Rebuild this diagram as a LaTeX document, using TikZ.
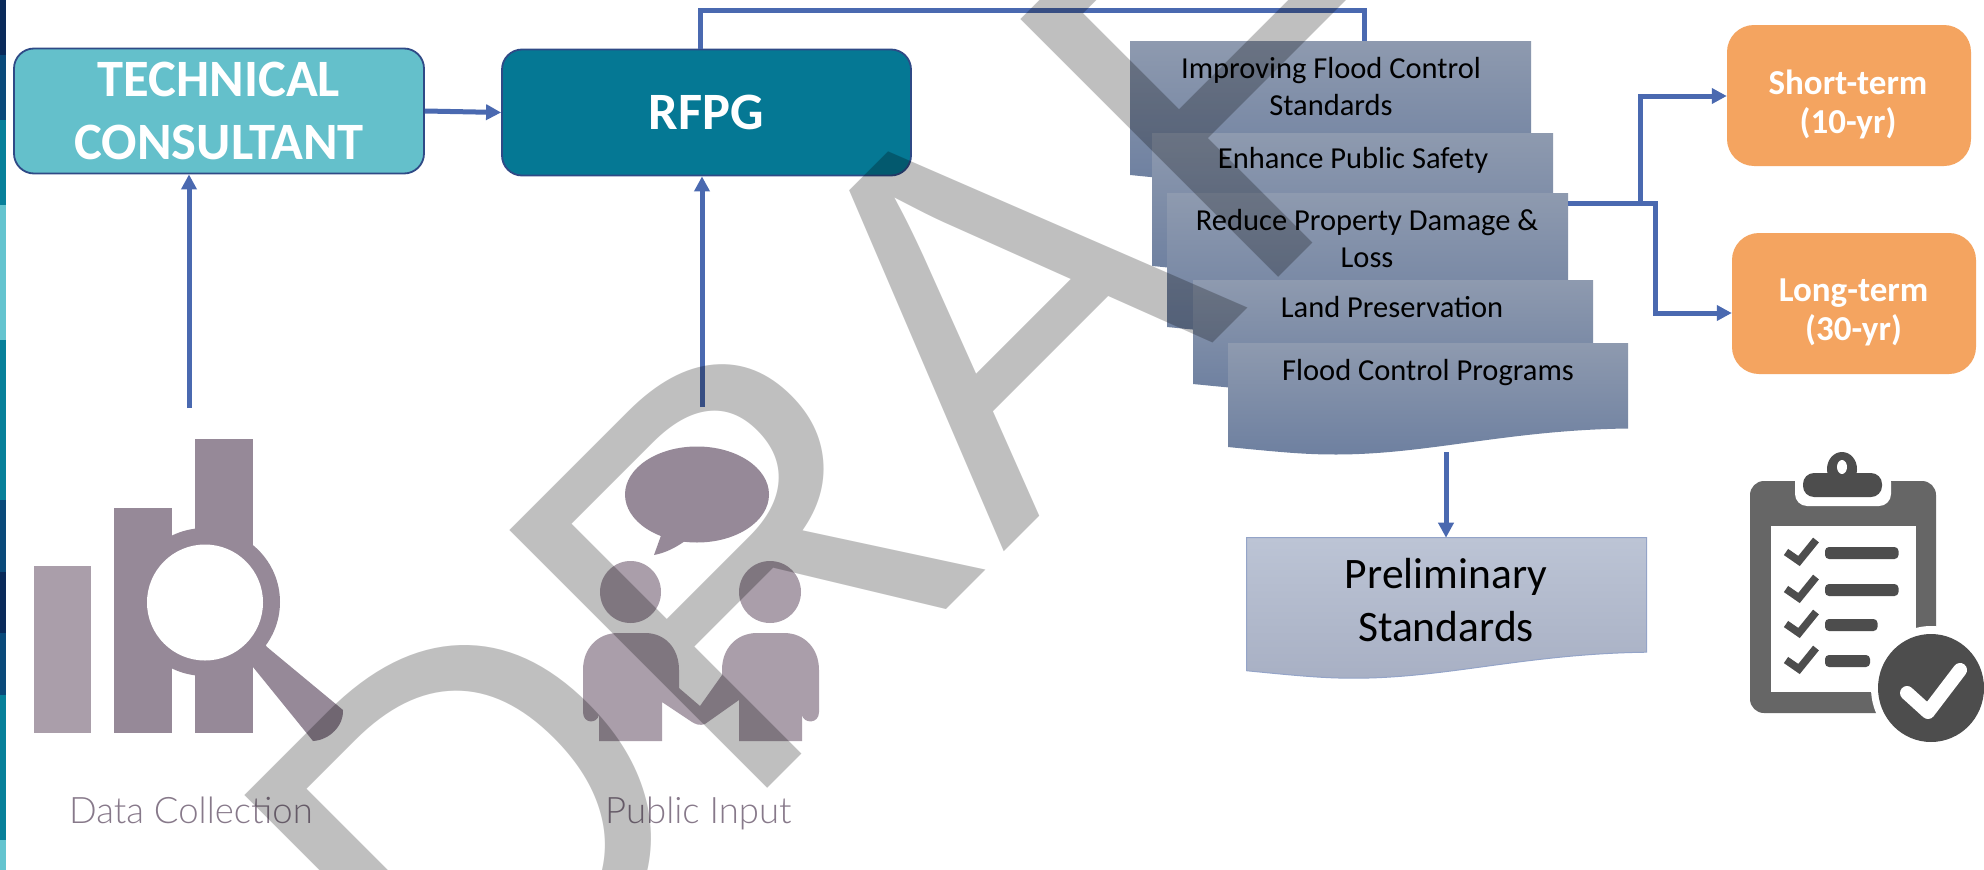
\documentclass[tikz,border=0pt]{standalone}
\usepackage{fontspec}
\setmainfont{Carlito}
\newfontfamily\latofont{Lato Light}
\newfontfamily\wmfont[FakeStretch=0.981]{Liberation Sans}
\usetikzlibrary{arrows.meta,calc}
\definecolor{flowblue}{HTML}{4A69B0}
\definecolor{tealL}{HTML}{64C0CB}
\definecolor{tealD}{HTML}{057894}
\definecolor{boxedge}{HTML}{2F4A86}
\definecolor{orangeB}{HTML}{F4A460}
\definecolor{iconA}{HTML}{968998}
\definecolor{iconB}{HTML}{AA9EAA}
\definecolor{iconT}{HTML}{87798A}
\definecolor{clipA}{HTML}{666666}
\definecolor{clipB}{HTML}{4D4D4D}
\definecolor{docT}{HTML}{8E9AAF}
\definecolor{docM}{HTML}{8596B4}
\definecolor{docB}{HTML}{6E80A0}
\definecolor{preT}{HTML}{BCC4D5}
\definecolor{preM}{HTML}{B2BACD}
\definecolor{preB}{HTML}{A8B0C4}
\definecolor{stripN}{HTML}{0A2A5A}
\definecolor{stripB}{HTML}{0A4A7A}
\definecolor{stripT}{HTML}{07809A}
\definecolor{stripL}{HTML}{64C4CF}
\tikzset{
 roundbox/.style={draw=boxedge,line width=1.8pt,rounded corners=20pt,inner sep=0pt,align=center,text=white,font=\fontsize{52.5}{63}\selectfont\bfseries},
 orangebox/.style={fill=orangeB,rounded corners=27pt,inner sep=0pt},
 orangelabel/.style={inner sep=0pt,align=center,text=white,font=\fontsize{35}{39}\selectfont\bfseries},
 flow/.style={draw=flowblue,line width=5pt},
 flowtip/.style={flow,-{Triangle[length=15pt,width=15pt]}},
 docedge/.style={inner sep=0pt,outer sep=0pt,anchor=north west},
 doclabel/.style={align=center,font=\fontsize{30.5}{37}\selectfont,inner sep=0pt},
 icontext/.style={text=iconT,inner sep=0pt,anchor=base west,font=\latofont\fontsize{36.5}{44}\selectfont},
 watermark/.style={text=black,text opacity=.25,inner sep=0pt,anchor=base west,rotate=45,font=\wmfont\fontsize{530}{530}\selectfont},
}
% [extra], name, x1, ytop, x2, yleftbottom, top/mid/bottom prefix
\newcommand{\docshape}[7][]{%
 \path[top color=#7T,middle color=#7M,bottom color=#7B,#1] (#3,#4) -- (#5,#4) -- (#5,{#6-18.5})
  .. controls ({#3+.7*(#5-#3)},{#6-17}) and ({#3+.5*(#5-#3)},{#6+7.5}) .. ({#3+.27*(#5-#3)},{#6+7.5})
  .. controls ({#3+.2*(#5-#3)},{#6+7.5}) and ({#3+.15*(#5-#3)},{#6+6}) .. (#3,#6) -- cycle;
 \node[docedge,minimum width={(#5-#3)*1pt},minimum height={(#6-#4)*1pt}] (#2) at (#3,#4) {};
}
\begin{document}
\begin{tikzpicture}[x=1pt,y=-1pt]
\useasboundingbox (0,0) rectangle (1984,870);
\fill[white] (0,0) rectangle (1984,870);
% left decorative strip
\fill[stripN] (0,0) rectangle (6,55);
\fill[stripB] (0,55) rectangle (6,120);
\fill[stripT] (0,120) rectangle (6,205);
\fill[stripL] (0,205) rectangle (6,340);
\fill[stripT] (0,340) rectangle (6,500);
\fill[stripB] (0,500) rectangle (6,572);
\fill[stripN] (0,572) rectangle (6,633);
\fill[stripB] (0,633) rectangle (6,695);
\fill[stripT] (0,695) rectangle (6,840);
\fill[stripL] (0,840) rectangle (6,870);
% boxes
\node[roundbox,fill=tealL,minimum width=410pt,minimum height=125pt] (tc) at (219,111) {TECHNICAL\\CONSULTANT};
\node[roundbox,fill=tealD,minimum width=409pt,minimum height=126pt] (rfpg) at (706.5,112.5) {\raisebox{-2.5pt}{RFPG}};
\node[orangebox,minimum width=244pt,minimum height=141pt] (short) at (1849,95.5) {};
\node[orangelabel] (shortt) at (1848,104) {Short-term\\(10-yr)};
\node[orangebox,minimum width=244pt,minimum height=141pt] (long) at (1854,303.5) {};
\node[orangelabel] (longt) at (1853.5,312) {Long-term\\(30-yr)};
% free ends
\coordinate (dataend) at (189,408);
\coordinate (pubend) at (702,407);
% document stack
\docshape{doc1}{1130}{41}{1531}{175}{doc}
\docshape{doc2}{1152.5}{133}{1553}{266}{doc}
\docshape{doc3}{1167}{193}{1568}{327}{doc}
\docshape{doc4}{1193}{280}{1593}{384}{doc}
\docshape{doc5}{1228}{343}{1628}{447}{doc}
\docshape[draw=flowblue!35!preT,line width=1pt]{prelim}{1246.5}{537.7}{1646.5}{670.7}{pre}
\node[doclabel,anchor=center] (t1) at (1331,87) {Improving Flood Control\\Standards};
\node[doclabel,anchor=base] (t2) at (1353,168) {Enhance Public Safety};
\node[doclabel,anchor=center] (t3) at (1367,239) {Reduce Property Damage \&\\Loss};
\node[doclabel,anchor=base] (t4) at (1392,317) {Land Preservation};
\node[doclabel,anchor=base] (t5) at (1428,380) {Flood Control Programs};
\node[align=center,inner sep=0pt,font=\fontsize{43.5}{53}\selectfont] (t6) at (1446,600) {Preliminary\\Standards};
% connectors
\draw[flowtip] (tc.east) -- (rfpg.west);
\draw[flowtip] (dataend) -- (dataend |- tc.south);
\draw[flowtip] (pubend) -- (pubend |- rfpg.south);
\coordinate (topa) at (700.5,49);
\coordinate (topb) at (1364,41);
\draw[flow] (topa) -- (700.5,10.5) -- (1364,10.5) -- (topb);
\coordinate (d3out) at (1568,203);
\draw[flowtip] (d3out) -- (1640,203) -- (1640,96) -- (short.west |- 0,96);
\draw[flowtip] (d3out) -- (1655,203) -- (1655,313) -- (long.west |- 0,313);
\coordinate (d5out) at (1446,452);
\draw[flowtip] (d5out) -- (d5out |- prelim.north);
% data collection icon
\fill[iconB] (34.4,566) rectangle (90.7,733);
\fill[iconA] (114,508) rectangle (172,733);
\fill[iconA] (195,439) rectangle (252.6,733);
\fill[iconA] (255,630) -- (267,647) -- (343,710) .. controls (344,725) and (330,740) .. (313,741) -- (253,667) -- (240,650) -- cycle;
\fill[iconA] (205,602) ellipse [x radius=75,y radius=74];
\fill[white] (205,602.5) circle [radius=58];
\node[icontext] (lab1) at (69,823) {Data Collection};
% public input icon
\fill[iconA] (697,494.5) ellipse [x radius=72,y radius=48];
\fill[iconA] (663,530) -- (654,555) .. controls (665,553) and (675,548) .. (685,541) -- cycle;
\fill[iconB] (630.5,592) ellipse [x radius=30.5,y radius=31];
\fill[iconB] (770,592) ellipse [x radius=31,y radius=31];
\fill[iconB] (599,741) -- (599,715) .. controls (597,724) and (583,724) .. (583,712) -- (583,670)
  .. controls (583,648) and (598,633) .. (618,633) -- (645,633) .. controls (665,633) and (679,648) .. (679,670)
  -- (679,688) -- (700,706) -- (722,675) -- (722,670) .. controls (722,648) and (737,633) .. (757,633) -- (784,633)
  .. controls (804,633) and (819,648) .. (819,670) -- (819,712) .. controls (819,724) and (804,724) .. (802,715)
  -- (802,741) -- (739,741) -- (739,700) -- (705,724) .. controls (700,726) and (695,724) .. (692,722) -- (662,702) -- (662,741) -- cycle;
\node[icontext] (lab2) at (605,823) {Public Input};
% clipboard icon
\fill[clipA,rounded corners=14pt] (1750,481) rectangle (1936,713);
\fill[white] (1770.5,526) rectangle (1915.5,692);
\fill[white,rounded corners=12pt] (1795,470) rectangle (1891,506);
\fill[clipB,rounded corners=11pt] (1803,473) rectangle (1882,497);
\fill[clipB] (1842,469) ellipse [x radius=15,y radius=17];
\fill[white] (1842,467) ellipse [x radius=5,y radius=7];
\foreach \r/\e in {540/1898.5,577/1898.5,612/1877.5,648/1870}{
 \draw[clipB,line width=7.5pt,line join=miter] (1786,\r+12) -- (1799,\r+21) -- (1816,\r);
 \fill[clipB,rounded corners=4pt] (1825,\r+7) rectangle (\e,\r+19);
}
\fill[white] (1931,688) ellipse [x radius=60,y radius=62];
\fill[clipB] (1931,688) ellipse [x radius=53,y radius=54];
\draw[white,line width=14pt,line cap=round,line join=round] (1907,693) -- (1928,712) -- (1960,670);
% watermark
\begin{scope}
\clip (0,0) rectangle (1984,870);
\node[watermark] (wm) at (472,1084) {DRAFT};
\end{scope}
\end{tikzpicture}
\end{document}
